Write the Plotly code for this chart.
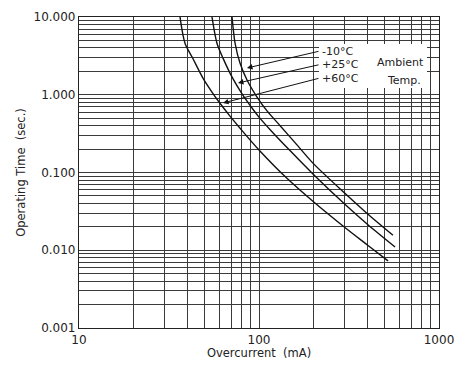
import plotly.graph_objects as go

# Overcurrent (mA) vs operating time (sec.) for three ambient temperatures
current_m10 = [70.8, 73.6, 78.4, 85.8, 97.5, 110.8, 131, 163, 200, 300, 400, 555]
time_m10 = [10, 4.63, 2.56, 1.55, 0.935, 0.62, 0.40, 0.225, 0.131, 0.054, 0.0295, 0.0156]

current_p25 = [54.8, 58.4, 63, 71, 80, 91, 100, 115, 150, 200, 300, 400, 570]
time_p25 = [10, 4.6, 2.98, 1.67, 1.05, 0.686, 0.516, 0.358, 0.187, 0.095, 0.039, 0.0216, 0.011]

current_p60 = [36.4, 38.8, 43, 49, 55, 61, 69, 80, 100, 143, 200, 300, 400, 521]
time_p60 = [10, 4.6, 2.9, 1.61, 1.067, 0.766, 0.531, 0.352, 0.195, 0.0841, 0.0423, 0.0196, 0.0117, 0.0073]

series_labels = ["-10°C", "+25°C", "+60°C"]

x_decades = [10, 100, 1000]
x_tick_labels = ["10", "100", "1000"]
y_decades = [0.001, 0.01, 0.1, 1, 10]
y_tick_labels = ["0.001", "0.010", "0.100", "1.000", "10.000"]

FONT = "DejaVu Sans"
GRID = "#3a3a3a"

def log_grid(decades, labels):
    vals, texts = [], []
    for i, d in enumerate(decades):
        vals.append(d)
        texts.append(labels[i])
        if i < len(decades) - 1:
            for k in range(2, 10):
                vals.append(d * k)
                texts.append("")
    return vals, texts

xv, xt = log_grid(x_decades, x_tick_labels)
yv, yt = log_grid(y_decades, y_tick_labels)

fig = go.Figure()
for cx, ty, name in [(current_m10, time_m10, series_labels[0]),
                     (current_p25, time_p25, series_labels[1]),
                     (current_p60, time_p60, series_labels[2])]:
    fig.add_trace(go.Scatter(x=cx, y=ty, mode="lines", name=name,
                             line=dict(color="#111", width=1.4, shape="spline", smoothing=0.8),
                             showlegend=False, cliponaxis=True))

fig.update_layout(
    width=460, height=365,
    margin=dict(l=79, r=21, t=17, b=37),
    paper_bgcolor="white", plot_bgcolor="white",
    font=dict(family=FONT, size=12, color="#222"),
    xaxis=dict(type="log", range=[1, 3], tickvals=xv, ticktext=xt, ticks="",
               showgrid=True, gridcolor=GRID, gridwidth=1, automargin=False,
               showline=True, linecolor="#222", linewidth=1.2, mirror=True,
               zeroline=False, tickfont=dict(size=12),
               title=dict(text="Overcurrent  (mA)", font=dict(size=11.5), standoff=3)),
    yaxis=dict(type="log", range=[-3, 1], tickvals=yv, ticktext=yt, ticks="",
               showgrid=True, gridcolor=GRID, gridwidth=1, automargin=False,
               showline=True, linecolor="#222", linewidth=1.2, mirror=True,
               zeroline=False, tickfont=dict(size=12),
               title=dict(text="Operating Time  (sec.)", font=dict(size=11.5), standoff=5)),
)

def px_x(p):
    return (p - 79) / 360.0

def px_y(p):
    return (328 - p) / 311.0

# white label box
fig.add_shape(type="rect", xref="paper", yref="paper",
              x0=px_x(319), x1=px_x(427), y0=px_y(88), y1=px_y(44),
              fillcolor="white", line=dict(width=0), layer="above")

label_y = [51, 64.5, 78]
tips = [(247, 68), (238, 83), (223, 103)]
for lab, ly, (tx, ty) in zip(series_labels, label_y, tips):
    fig.add_annotation(xref="paper", yref="paper", x=px_x(321), y=px_y(ly),
                       text=lab, showarrow=False, xanchor="left", yanchor="middle",
                       borderpad=0, font=dict(size=11, color="#222"))
    fig.add_annotation(xref="paper", yref="paper", x=px_x(tx), y=px_y(ty),
                       text="", showarrow=True, axref="pixel", ayref="pixel",
                       ax=320 - tx, ay=ly - ty, arrowhead=2, arrowsize=1.1,
                       arrowwidth=1, arrowcolor="#111", standoff=0, startstandoff=0)

fig.add_annotation(xref="paper", yref="paper", x=px_x(425), y=px_y(63),
                   text="Ambient", showarrow=False, xanchor="right", yanchor="middle",
                   borderpad=0, font=dict(size=11, color="#222"))
fig.add_annotation(xref="paper", yref="paper", x=px_x(422), y=px_y(80),
                   text="Temp.", showarrow=False, xanchor="right", yanchor="middle",
                   borderpad=0, font=dict(size=11, color="#222"))

fig.write_html("out.html", config={"displayModeBar": False},
               post_script="document.body.style.margin='0';document.body.style.padding='0';")
